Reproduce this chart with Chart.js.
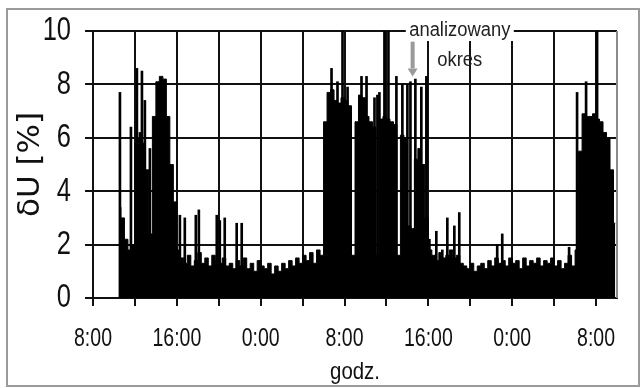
<!DOCTYPE html>
<html>
<head>
<meta charset="utf-8">
<script src="https://cdn.jsdelivr.net/npm/chart.js@4.4.0/dist/chart.umd.min.js"></script>
<style>
  html, body { margin: 0; padding: 0; background: #fff; }
  canvas { display: block; }
</style>
</head>
<body>
<canvas id="duChart" width="642" height="388"></canvas>
<script>
// time is counted in hours from 8:00 of the first day
var startHour = 2.5;      // first sample (10:30)
var stepHours = 1 / 3;    // one sample every 20 min

// envelope of the recorded dU [%]
var envelope = [
  3.4, 3.0, 2.2, 1.8, 2.0, 5.8, 6.0, 5.8, 4.8, 2.4,
  6.8, 8.1, 8.3, 8.2, 6.8, 5.0, 3.6, 1.8,
  1.5, 1.3, 1.6, 1.2, 1.4, 1.7, 1.3, 1.5, 1.2, 1.6, 1.4, 1.3,
  1.5, 1.2, 1.3, 1.1, 1.4, 1.2, 1.5, 1.1, 1.3, 1.0, 1.4, 1.2,
  1.1, 1.3, 0.9, 1.2, 1.0, 1.3, 1.1, 1.4, 1.2, 1.5, 1.3, 1.6,
  1.4, 1.7, 1.3, 1.8, 1.6,
  6.6, 7.7, 7.8, 7.4, 7.3, 7.5, 7.4, 7.2,
  1.6,
  6.6, 7.6, 7.5, 6.8, 6.6, 6.4,
  1.6,
  6.7, 6.8, 6.7, 6.6, 6.5,
  1.6,
  6.1, 6.0,
  2.7, 2.6,
  5.2, 5.6, 5.0,
  3.0,
  1.8, 1.6, 1.4, 1.7, 1.5, 1.6, 1.8, 1.5, 1.6, 1.3,
  1.2, 1.1, 1.3, 1.0, 1.2, 1.3, 1.1, 1.4, 1.2, 1.5, 1.3, 1.4,
  1.2, 1.5, 1.3, 1.4, 1.1, 1.5, 1.2, 1.4, 1.3, 1.5, 1.2, 1.4,
  1.3, 1.5, 1.2, 1.4, 1.1, 1.3, 1.6, 1.2,
  1.8, 5.5, 6.9, 6.8, 6.8, 6.9, 6.7, 6.6, 6.2, 6.0, 4.8, 2.8
];

// single short peaks
var spikeHours = [
  2.57, 3.62, 4.19, 4.48, 4.67, 4.95, 5.43,
  8.29, 8.76, 9.81, 10.1, 11.81, 12.1, 12.57, 13.71, 14.19,
  22.76, 23.33, 23.81, 24.29, 25.62, 26.1, 26.86, 27.14, 27.33,
  27.81, 28.19, 28.95, 29.52, 30.0, 30.29, 30.76, 31.33, 31.81,
  32.1, 32.76, 33.33, 33.81, 34.48, 34.95, 38.57, 39.05, 45.43,
  46.19, 47.05, 48.1
];
var spikeValues = [
  7.7, 6.4, 8.6, 6.2, 8.5, 7.4, 5.6,
  3.1, 3.0, 3.1, 3.3, 3.1, 2.9, 3.0, 2.8, 2.8,
  8.6, 8.1, 10.0, 7.9, 8.3, 8.3, 7.5, 7.6, 7.7,
  10.0, 10.0, 8.3, 8.0, 8.0, 8.1, 8.2, 7.9, 8.3,
  2.2, 2.5, 1.8, 3.0, 2.7, 3.2, 2.0, 2.4, 1.9,
  7.7, 8.1, 10.0
];

var hourLabels = ['8:00', '16:00', '0:00', '8:00', '16:00', '0:00', '8:00'];

var envelopePoints = envelope.map(function (v, i) {
  return { x: startHour + i * stepHours, y: v };
});
var spikePoints = spikeHours.map(function (h, i) {
  return { x: h, y: spikeValues[i] };
});

// narrow-looking text: Liberation Sans squeezed sideways
function narrowText(ctx, text, x, y, size, sx, align) {
  ctx.save();
  ctx.translate(x, y);
  ctx.scale(sx, 1);
  ctx.font = size + 'px "Liberation Sans", Arial, sans-serif';
  ctx.textAlign = align;
  ctx.textBaseline = 'middle';
  ctx.fillText(text, 0, 0);
  ctx.restore();
}

// labels, frame, right border and the "analizowany okres" note
var extras = {
  id: 'extras',
  afterDraw: function (chart) {
    var ctx = chart.ctx;
    var a = chart.chartArea;
    var xs = chart.scales.x, ys = chart.scales.y;
    ctx.save();
    ctx.strokeStyle = '#9a9a9a';
    ctx.lineWidth = 2;
    ctx.strokeRect(7, 9, 632, 377);

    ctx.strokeStyle = '#8a8a8a';
    ctx.beginPath();
    ctx.moveTo(a.right, a.top);
    ctx.lineTo(a.right, a.bottom);
    ctx.stroke();

    ctx.fillStyle = '#111';
    ys.ticks.forEach(function (t) {
      narrowText(ctx, String(t.value), 71, ys.getPixelForValue(t.value), 34, 0.75, 'right');
    });
    xs.ticks.forEach(function (t) {
      if (t.value % 8 === 0) {
        narrowText(ctx, hourLabels[t.value / 8], xs.getPixelForValue(t.value), 339, 25, 0.78, 'center');
      }
    });
    narrowText(ctx, 'godz.', (a.left + a.right) / 2, 372, 24, 0.85, 'center');

    var cx = xs.getPixelForValue(35);
    var topY = ys.getPixelForValue(10);
    ctx.fillStyle = '#fff';
    ctx.fillRect(cx - 54, topY - 10, 108, 20);
    ctx.fillStyle = '#222';
    narrowText(ctx, 'analizowany', cx, topY - 1, 20, 0.92, 'center');
    narrowText(ctx, 'okres', cx, ys.getPixelForValue(8.9), 20, 0.92, 'center');

    var ax = xs.getPixelForValue(30.5);
    var y1 = ys.getPixelForValue(9.6), y2 = ys.getPixelForValue(8.6), y3 = ys.getPixelForValue(8.3);
    ctx.fillStyle = '#9a9a9a';
    ctx.fillRect(ax - 2, y1, 4, y2 - y1);
    ctx.beginPath();
    ctx.moveTo(ax - 5, y2);
    ctx.lineTo(ax + 5, y2);
    ctx.lineTo(ax, y3);
    ctx.closePath();
    ctx.fill();
    ctx.restore();
  }
};

new Chart(document.getElementById('duChart'), {
  type: 'line',
  data: {
    datasets: [{
      type: 'bar',
      data: spikePoints,
      backgroundColor: '#000',
      borderWidth: 0,
      barThickness: 2
    }, {
      type: 'line',
      data: envelopePoints,
      borderColor: '#000',
      backgroundColor: '#000',
      borderWidth: 1,
      fill: 'origin',
      stepped: 'middle',
      pointRadius: 0
    }]
  },
  options: {
    responsive: false,
    animation: false,
    devicePixelRatio: 1,
    layout: { padding: { top: 31, right: 25, left: 0, bottom: 0 } },
    plugins: { legend: { display: false }, tooltip: { enabled: false } },
    scales: {
      x: {
        type: 'linear',
        min: 0,
        max: 50,
        offset: false,
        ticks: {
          display: false,
          stepSize: 4,
          includeBounds: false,
          autoSkip: false
        },
        grid: { color: '#111', lineWidth: 2, tickLength: 8, offset: false },
        border: { color: '#111', width: 2 },
        afterFit: function (s) { s.height = 90; }
      },
      y: {
        min: 0,
        max: 10,
        ticks: { display: false, stepSize: 2 },
        grid: { color: '#111', lineWidth: 2, tickLength: 8 },
        border: { color: '#111', width: 2 },
        title: {
          display: true,
          text: 'δU [%]',
          color: '#111',
          font: { family: "'DejaVu Sans', sans-serif", size: 31 },
          padding: { top: 12, bottom: 0 }
        },
        afterFit: function (s) { s.width = 93; }
      }
    }
  },
  plugins: [extras]
});
</script>
</body>
</html>
